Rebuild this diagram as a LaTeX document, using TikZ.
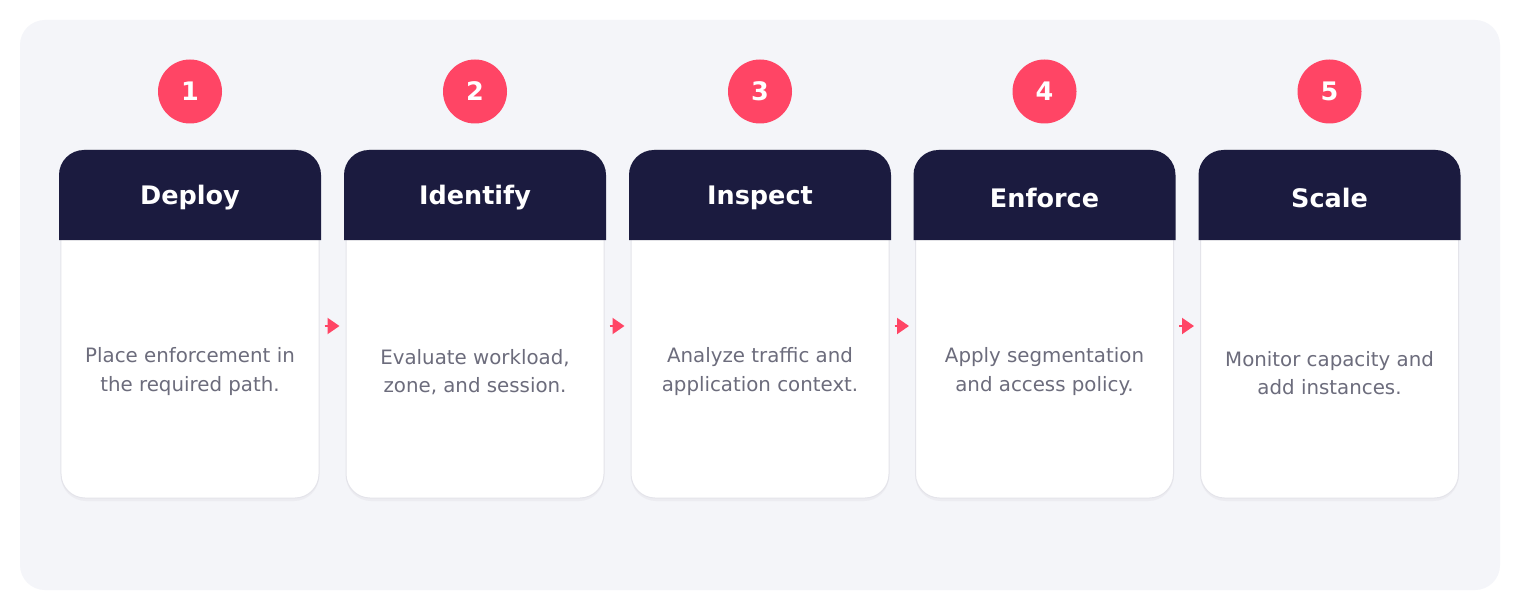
\documentclass[tikz,border=0pt]{standalone}
\usepackage{fontspec}
\setmainfont{DejaVu Sans}
\usetikzlibrary{arrows.meta}
\definecolor{bgc}{HTML}{F4F5F9}
\definecolor{navy}{HTML}{1B1B3F}
\definecolor{accent}{HTML}{FF4565}
\definecolor{desc}{HTML}{6C6C7C}
\definecolor{border}{HTML}{E4E4EA}
\definecolor{shadowc}{HTML}{ECECF1}
\tikzset{
  cardbody/.style={draw=border, line width=1bp, fill=white, rounded corners=24bp,
    minimum width=258bp, minimum height=348bp, inner sep=0pt},
  numcirc/.style={circle, fill=accent, minimum size=64bp, inner sep=0pt,
    text=white, font=\bfseries\fontsize{25.5bp}{30bp}\selectfont},
  titletext/.style={text=white, font=\bfseries\fontsize{25.5bp}{29bp}\selectfont, inner sep=0pt},
  desctext/.style={text=desc, align=center, font=\fontsize{19.8bp}{28.5bp}\selectfont, inner sep=0pt},
  flowarrow/.style={draw=accent, line width=2bp, -{Triangle[length=12bp,width=16bp]},
    shorten <=5bp, shorten >=6bp},
}
\newcommand\mycard[4]{%
  % #1 index, #2 centre x, #3 title, #4 title y
  \fill[shadowc, rounded corners=25bp] (#2-129,154) rectangle (#2+129,501);
  \node[cardbody] (body#1) at (#2,324) {};
  \fill[navy] (#2-131,240) {[rounded corners=25bp] -- (#2-131,150) -- (#2+131,150)} -- (#2+131,240) -- cycle;
  \node[titletext] (title#1) at (#2,#4) {#3};
  \node[numcirc] (num#1) at (#2,91.5) {#1};
}
\begin{document}
\begin{tikzpicture}[x=1bp,y=-1bp]
\useasboundingbox (0,0) rectangle (1520,610);
\fill[white] (0,0) rectangle (1520,610);
\fill[bgc, rounded corners=25bp] (20,20) rectangle (1500,590);
\mycard{1}{190}{Deploy}{198}
\mycard{2}{475}{Identify}{198}
\mycard{3}{760}{Inspect}{198}
\mycard{4}{1044.5}{Enforce}{198}
\mycard{5}{1329.5}{Scale}{198}
\node[desctext] (d1) at (190,371.5) {Place enforcement in\\the required path.};
\node[desctext] (d2) at (475,372) {Evaluate workload,\\zone, and session.};
\node[desctext] (d3) at (760,371.5) {Analyze traffic and\\application context.};
\node[desctext] (d4) at (1044.5,371.5) {Apply segmentation\\and access policy.};
\node[desctext] (d5) at (1329.5,373) {Monitor capacity and\\add instances.};
\draw[flowarrow] ([yshift=-2bp]body1.east) -- ([yshift=-2bp]body2.west);
\draw[flowarrow] ([yshift=-2bp]body2.east) -- ([yshift=-2bp]body3.west);
\draw[flowarrow] ([yshift=-2bp]body3.east) -- ([yshift=-2bp]body4.west);
\draw[flowarrow] ([yshift=-2bp]body4.east) -- ([yshift=-2bp]body5.west);
\end{tikzpicture}
\end{document}
